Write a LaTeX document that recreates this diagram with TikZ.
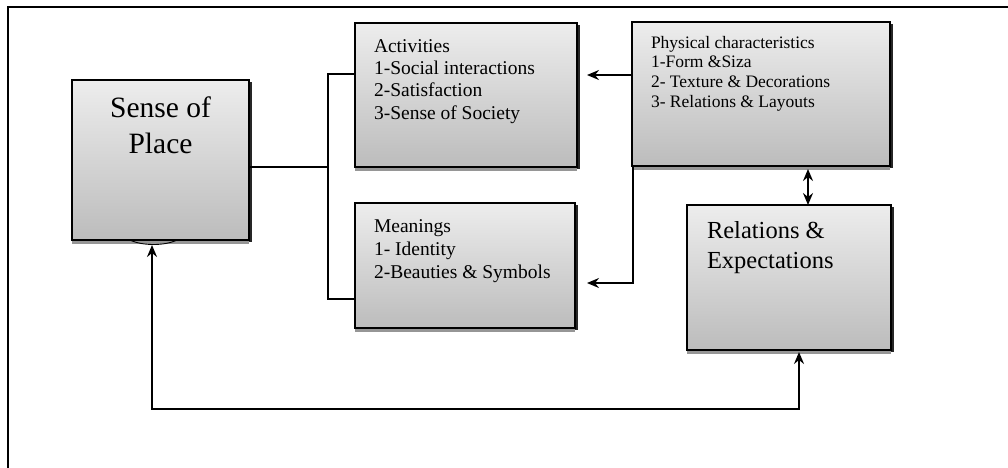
\documentclass[tikz,border=0pt]{standalone}
\usepackage{fontspec}
\setmainfont{Liberation Serif}
\usetikzlibrary{arrows.meta,shadows}
\definecolor{boxtop}{RGB}{237,237,237}
\definecolor{boxbot}{RGB}{188,188,188}
\definecolor{shadegray}{RGB}{150,150,150}
\tikzset{
  box/.style={draw=black, line width=1.7pt, top color=boxtop, bottom color=boxbot,
    anchor=north west, inner sep=0pt, outer sep=0pt,
    general shadow={shadow xshift=3pt, shadow yshift=-2pt, fill=black!85},
    general shadow={shadow xshift=0pt, shadow yshift=-4pt, fill=shadegray}},
  txt/.style={anchor=base west, inner sep=0pt, outer sep=0pt},
  conn/.style={line width=1.8pt, line join=miter},
  tip/.style={},
  arr/.style={conn, -{Stealth[length=12pt,width=10pt,inset=4pt]}},
  darr/.style={conn, {Stealth[length=12pt,width=10pt,inset=4pt]}-{Stealth[length=12pt,width=10pt,inset=4pt]}}
}
\begin{document}
\begin{tikzpicture}[x=1pt,y=-1pt]
\useasboundingbox (0,0) rectangle (1008,467);
% outer frame (only top and left visible)
\draw[line width=2.8pt] (8,470) -- (8,7) -- (1012,7);

% boxes
\node[box, minimum width=177pt, minimum height=160pt] (sp) at (72,80) {};
\node[box, minimum width=222pt, minimum height=144pt] (act) at (355,23) {};
\node[box, minimum width=220pt, minimum height=125pt] (mea) at (355,203) {};
\node[box, minimum width=258pt, minimum height=144pt] (phy) at (632,22) {};
\node[box, minimum width=204pt, minimum height=145pt] (rel) at (687,205) {};

% texts
\node[anchor=base, inner sep=0pt] (sptxt) at (160.5,117)
  {\parbox[t]{170pt}{\centering\fontsize{29.5}{36}\selectfont Sense of\\Place}};
\node[txt] (acttxt) at (374,52)
  {\parbox[t]{200pt}{\raggedright\fontsize{19.5}{22.4}\selectfont Activities\\1-Social interactions\\2-Satisfaction\\3-Sense of Society}};
\node[txt] (meatxt) at (374,232)
  {\parbox[t]{200pt}{\raggedright\fontsize{19.5}{23}\selectfont Meanings\\1- Identity\\2-Beauties \& Symbols}};
\node[txt] (phytxt) at (651,48)
  {\parbox[t]{230pt}{\raggedright\fontsize{17.5}{19.7}\selectfont Physical characteristics\\1-Form \&Siza\\2- Texture \& Decorations\\3- Relations \& Layouts}};
\node[txt] (reltxt) at (707,238)
  {\parbox[t]{180pt}{\raggedright\fontsize{24.5}{30}\selectfont Relations \&\\Expectations}};

% coordinates
\coordinate (j) at (328,167);
\coordinate (bt) at (328,74);
\coordinate (bb) at (328,299);
\coordinate (t1) at (587,75);
\coordinate (pm) at (633,283);
\coordinate (t2) at (587,283);
\coordinate (dtop) at (808,169);
\coordinate (dbot) at (808,205);
\coordinate (lr) at (799,409);
\coordinate (ll) at (152,409);
\coordinate (rtip) at (799,352);
\coordinate (stip) at (152,245);

% connectors
\draw[conn] (sp.east |- j) -- (j);
\draw[conn] (bt -| act.west) -- (bt) -- (bb) -- (bb -| mea.west);
\draw[arr] (phy.west |- t1) -- (t1);
\draw[arr] (phy.south west -| pm) -- (pm) -- (t2);
\draw[darr] (dtop) -- (dbot);
\draw[darr] (rtip) -- (lr) -- (ll) -- (stip);
% small arc under Sense of Place
\draw[line width=0.9pt] (130,240) .. controls (142,246) and (165,246) .. (177,240);
\end{tikzpicture}
\end{document}
